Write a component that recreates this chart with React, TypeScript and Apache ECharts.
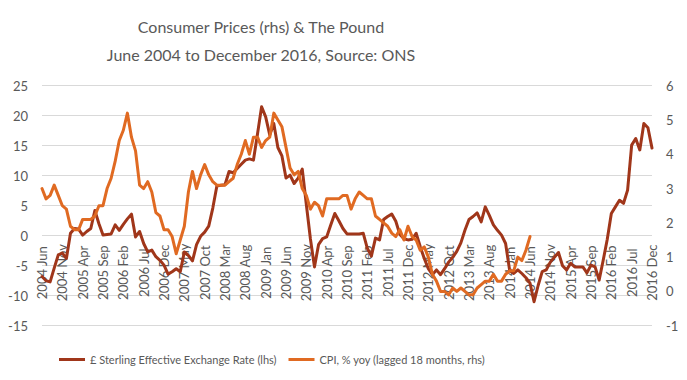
import React, { useEffect, useRef } from 'react';
import * as echarts from 'echarts';

const MONTHS = ['Jan', 'Feb', 'Mar', 'Apr', 'May', 'Jun', 'Jul', 'Aug', 'Sep', 'Oct', 'Nov', 'Dec'];
const START_YEAR = 2004;
const START_MONTH = 5; // Jun
const END_YEAR = 2016;
const END_MONTH = 11; // Dec

const categories: string[] = [];
for (let y = START_YEAR; y <= END_YEAR; y++) {
  for (let m = 0; m < 12; m++) {
    if (y === START_YEAR && m < START_MONTH) continue;
    if (y === END_YEAR && m > END_MONTH) continue;
    categories.push(`${y} ${MONTHS[m]}`);
  }
}

const TITLE_LINE1 = 'Consumer Prices (rhs) & The Pound';
const TITLE_LINE2 = 'June 2004 to December 2016, Source: ONS';
const SERIES_STERLING = '£ Sterling Effective Exchange Rate (lhs)';
const SERIES_CPI = 'CPI, % yoy (lagged 18 months, rhs)';

// £ Sterling effective exchange rate (lhs), Jun 2004 .. Dec 2016
const sterling = [
  -6.8, -7.5, -7.7, -5.4, -3.2, -2.9, -3.8, 0.4, 1.2, 1.1,
  0.1, 0.7, 1.2, 4.2, 2.0, 0.1, 0.2, 0.3, 1.8, 0.9,
  1.9, 2.8, 3.6, -0.2, 0.7, -1.3, -2.7, -2.4, -3.5, -4.1,
  -4.9, -6.4, -6.0, -5.5, -6.0, -2.7, -3.3, -4.2, -1.5, -0.1,
  0.6, 1.6, 4.6, 8.3, 8.4, 8.5, 10.7, 10.5, 11.2, 11.9,
  12.6, 12.8, 12.6, 17.0, 21.5, 19.8, 16.8, 18.7, 14.7, 13.3,
  9.6, 10.1, 8.7, 9.6, 11.1, 5.2, -0.5, -5.2, -1.5, -0.5,
  -0.2, 1.8, 3.7, 2.5, 1.2, 0.3, 0.3, 0.3, 0.3, 0.4,
  -2.1, -3.4, -0.4, -0.7, 2.7, 3.2, 3.6, 2.4, 0.2, -0.5,
  -0.7, -0.6, 0.4, -1.8, -3.8, -5.5, -6.5, -5.7, -6.5, -5.5,
  -4.4, -3.6, -2.6, -1.2, 0.9, 2.7, 3.2, 3.8, 2.3, 4.8,
  3.4, 1.8, 0.9, 0.1, -1.3, -5.8, -6.3, -5.7, -6.3, -7.0,
  -7.9, -11.0, -8.3, -6.0, -5.7, -4.4, -3.6, -2.8, -5.0, -5.7,
  -4.6, -5.2, -5.2, -5.2, -6.2, -4.9, -5.2, -7.4, -4.1, -0.6,
  3.7, 4.8, 5.9, 5.4, 7.6, 15.1, 16.2, 14.3, 18.7, 18.0,
  14.6,
];

// CPI % yoy (rhs), plotted from Jun 2004 until Jun 2014
const cpiLagged = [
  3.0, 2.7, 2.8, 3.1, 2.8, 2.5, 2.4, 1.9, 1.8, 1.8,
  2.1, 2.1, 2.1, 2.2, 2.5, 2.5, 3.0, 3.3, 3.8, 4.4,
  4.7, 5.2, 4.5, 4.1, 3.1, 3.0, 3.2, 2.9, 2.3, 2.2,
  1.8, 1.8, 1.6, 1.1, 1.5, 1.9, 2.9, 3.5, 3.0, 3.4,
  3.7, 3.4, 3.2, 3.1, 3.1, 3.1, 3.2, 3.3, 3.7, 4.0,
  4.4, 4.0, 4.5, 4.5, 4.2, 4.4, 4.5, 5.2, 5.0, 4.8,
  4.2, 3.6, 3.4, 3.5, 3.0, 2.8, 2.4, 2.6, 2.5, 2.2,
  2.7, 2.7, 2.7, 2.7, 2.8, 2.8, 2.4, 2.7, 2.9, 2.8,
  2.7, 2.7, 2.2, 2.1, 2.0, 1.9, 1.7, 1.6, 1.8, 1.5,
  1.9, 1.6, 1.5, 1.2, 1.3, 1.0, 0.5, 0.3, 0.0, 0.0,
  -0.1, 0.1, 0.0, 0.1, 0.0, -0.1, -0.1, 0.1, 0.2, 0.3,
  0.3, 0.5, 0.3, 0.3, 0.5, 0.6, 0.6, 1.0, 0.9, 1.2,
  1.6,
];

const LEFT_MIN = -15;
const LEFT_MAX = 25;
const LEFT_STEP = 5;
const RIGHT_MIN = -1;
const RIGHT_MAX = 6;
const RIGHT_STEP = 1;

const FONT = "Lato, 'Liberation Sans', sans-serif";
const TEXT_COLOR = '#595959';
const GRID_COLOR = '#d9d9d9';
const STERLING_COLOR = '#a0361a';
const CPI_COLOR = '#e06a22';

export default function App() {
  const ref = useRef<HTMLDivElement>(null);

  useEffect(() => {
    if (!ref.current) return;
    const chart = echarts.init(ref.current, undefined, { renderer: 'svg' });
    const cpiData = categories.map((_, i) => (i < cpiLagged.length ? cpiLagged[i] : null));

    chart.setOption({
      animation: false,
      backgroundColor: '#ffffff',
      graphic: [
        {
          type: 'text',
          x: 261,
          y: 26,
          style: {
            text: TITLE_LINE1,
            align: 'center',
            verticalAlign: 'middle',
            fontFamily: FONT,
            fontSize: 16,
            fill: TEXT_COLOR,
          },
        },
        {
          type: 'text',
          x: 261,
          y: 54,
          style: {
            text: TITLE_LINE2,
            align: 'center',
            verticalAlign: 'middle',
            fontFamily: FONT,
            fontSize: 16,
            fill: TEXT_COLOR,
          },
        },
      ],
      legend: {
        left: 54,
        top: 349,
        icon: 'rect',
        itemWidth: 26,
        itemHeight: 3,
        itemGap: 12,
        textStyle: { fontFamily: FONT, fontSize: 11, color: TEXT_COLOR },
        data: [SERIES_STERLING, SERIES_CPI],
      },
      grid: {
        left: 42,
        right: 35,
        top: 85.7,
        bottom: 54.3,
        containLabel: false,
        outerBoundsMode: 'none',
      },
      xAxis: {
        type: 'category',
        data: categories,
        boundaryGap: false,
        axisLine: { show: false, onZero: false },
        axisTick: { show: false },
        splitLine: { show: false },
        axisLabel: {
          interval: 4,
          rotate: 90,
          align: 'center',
          verticalAlign: 'middle',
          margin: -53,
          color: TEXT_COLOR,
          fontFamily: FONT,
          fontSize: 13,
        },
      },
      yAxis: [
        {
          type: 'value',
          position: 'left',
          min: LEFT_MIN,
          max: LEFT_MAX,
          interval: LEFT_STEP,
          axisLine: { show: false },
          axisTick: { show: false },
          splitLine: { show: true, lineStyle: { color: GRID_COLOR, width: 1 } },
          axisLabel: { color: TEXT_COLOR, fontFamily: FONT, fontSize: 13, margin: 14 },
        },
        {
          type: 'value',
          position: 'right',
          min: RIGHT_MIN,
          max: RIGHT_MAX,
          interval: RIGHT_STEP,
          axisLine: { show: false },
          axisTick: { show: false },
          splitLine: { show: false },
          axisLabel: { color: TEXT_COLOR, fontFamily: FONT, fontSize: 13, margin: 14 },
        },
      ],
      series: [
        {
          name: SERIES_STERLING,
          type: 'line',
          yAxisIndex: 0,
          data: sterling,
          symbol: 'none',
          lineStyle: { color: STERLING_COLOR, width: 3, join: 'round', cap: 'round' },
          itemStyle: { color: STERLING_COLOR },
        },
        {
          name: SERIES_CPI,
          type: 'line',
          yAxisIndex: 1,
          data: cpiData,
          symbol: 'none',
          connectNulls: false,
          lineStyle: { color: CPI_COLOR, width: 3, join: 'round', cap: 'round' },
          itemStyle: { color: CPI_COLOR },
        },
      ],
    });

    return () => chart.dispose();
  }, []);

  return (
    <div
      ref={ref}
      style={{ position: 'fixed', left: 0, top: 0, width: 687, height: 380, background: '#fff' }}
    />
  );
}
